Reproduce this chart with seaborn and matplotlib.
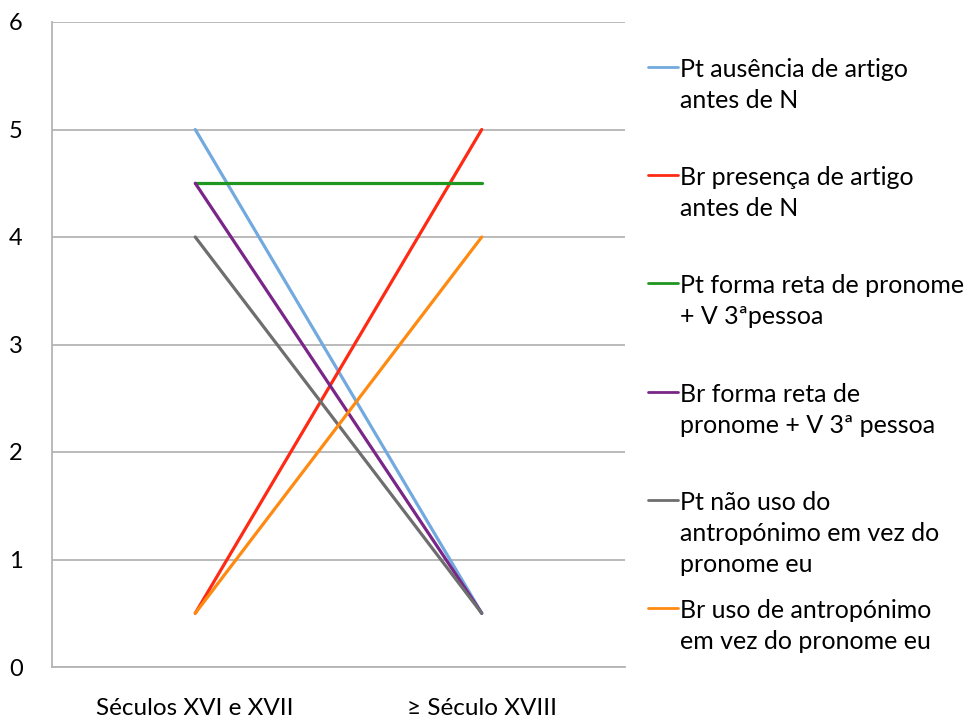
import pandas as pd
import seaborn as sns
import matplotlib.pyplot as plt
from matplotlib.lines import Line2D

# categories on the x axis
periods = ['Séculos XVI e XVII', '≥ Século XVIII']

# series labels (as wrapped in the legend)
series = [
    'Pt ausência de artigo\nantes de N',
    'Br presença de artigo\nantes de N',
    'Pt forma reta de pronome\n+ V 3ªpessoa',
    'Br forma reta de\npronome + V 3ª pessoa',
    'Pt não uso do\nantropónimo em vez do\npronome eu',
    'Br uso de antropónimo\nem vez do pronome eu',
]

pt_ausencia = [5, 0.5]
br_presenca = [0.5, 5]
pt_forma_reta = [4.5, 4.5]
br_forma_reta = [4.5, 0.5]
pt_nao_uso = [4, 0.5]
br_uso = [0.5, 4]

colors = ['#72aae0', '#ff2a14', '#1f961f', '#7a2688', '#6e6e6e', '#ff8a12']

values = [pt_ausencia, br_presenca, pt_forma_reta, br_forma_reta, pt_nao_uso, br_uso]
rows = []
for name, vals in zip(series, values):
    for i, v in enumerate(vals):
        rows.append({'period': i, 'series': name, 'value': v})
df = pd.DataFrame(rows)

sns.set_style('white')
plt.rcParams['font.family'] = ['Lato', 'DejaVu Sans']

fig = plt.figure(figsize=(9.72, 7.22), dpi=100)
ax = fig.add_axes([52 / 972, 1 - 667 / 722, 573 / 972, 645 / 722])

sns.lineplot(data=df, x='period', y='value', hue='series', hue_order=series,
             palette=dict(zip(series, colors)), linewidth=2.3, sort=False,
             legend=False, ax=ax)

ax.set_xlim(-0.5, 1.5)
ax.set_ylim(0, 6)
ax.set_yticks(range(0, 7))
ax.set_xticks([0, 1])
ax.set_xticklabels(periods)
ax.set_xticks([-0.5, 0.5, 1.5], minor=True)
ax.set_xlabel('')
ax.set_ylabel('')

ax.grid(axis='y', color='#b4b4b4', linewidth=1.3)
ax.set_axisbelow(True)
for side in ['top', 'right']:
    ax.spines[side].set_visible(False)
for side in ['left', 'bottom']:
    ax.spines[side].set_color('#b4b4b4')
    ax.spines[side].set_linewidth(1.3)

ax.tick_params(axis='y', length=7, width=1.3, color='#b4b4b4', labelsize=17,
               pad=14, labelcolor='#000000')
ax.tick_params(axis='x', which='major', length=0, labelsize=17.5, pad=22,
               labelcolor='#000000')
ax.tick_params(axis='x', which='minor', length=7, width=1.3, color='#b4b4b4')

# legend drawn by hand so the key lines sit on each entry's first line
for i, (name, c) in enumerate(zip(series, colors)):
    y_px = 67 + 108.2 * i
    y = 1 - y_px / 722
    fig.add_artist(Line2D([648 / 972, 678 / 972], [y, y], color=c, linewidth=2,
                          transform=fig.transFigure))
    fig.text(680 / 972, 1 - (y_px - 9) / 722, name, fontsize=18, va='top',
             ha='left', linespacing=1.42, color='#000000')

fig.savefig('out.png', dpi=100)
